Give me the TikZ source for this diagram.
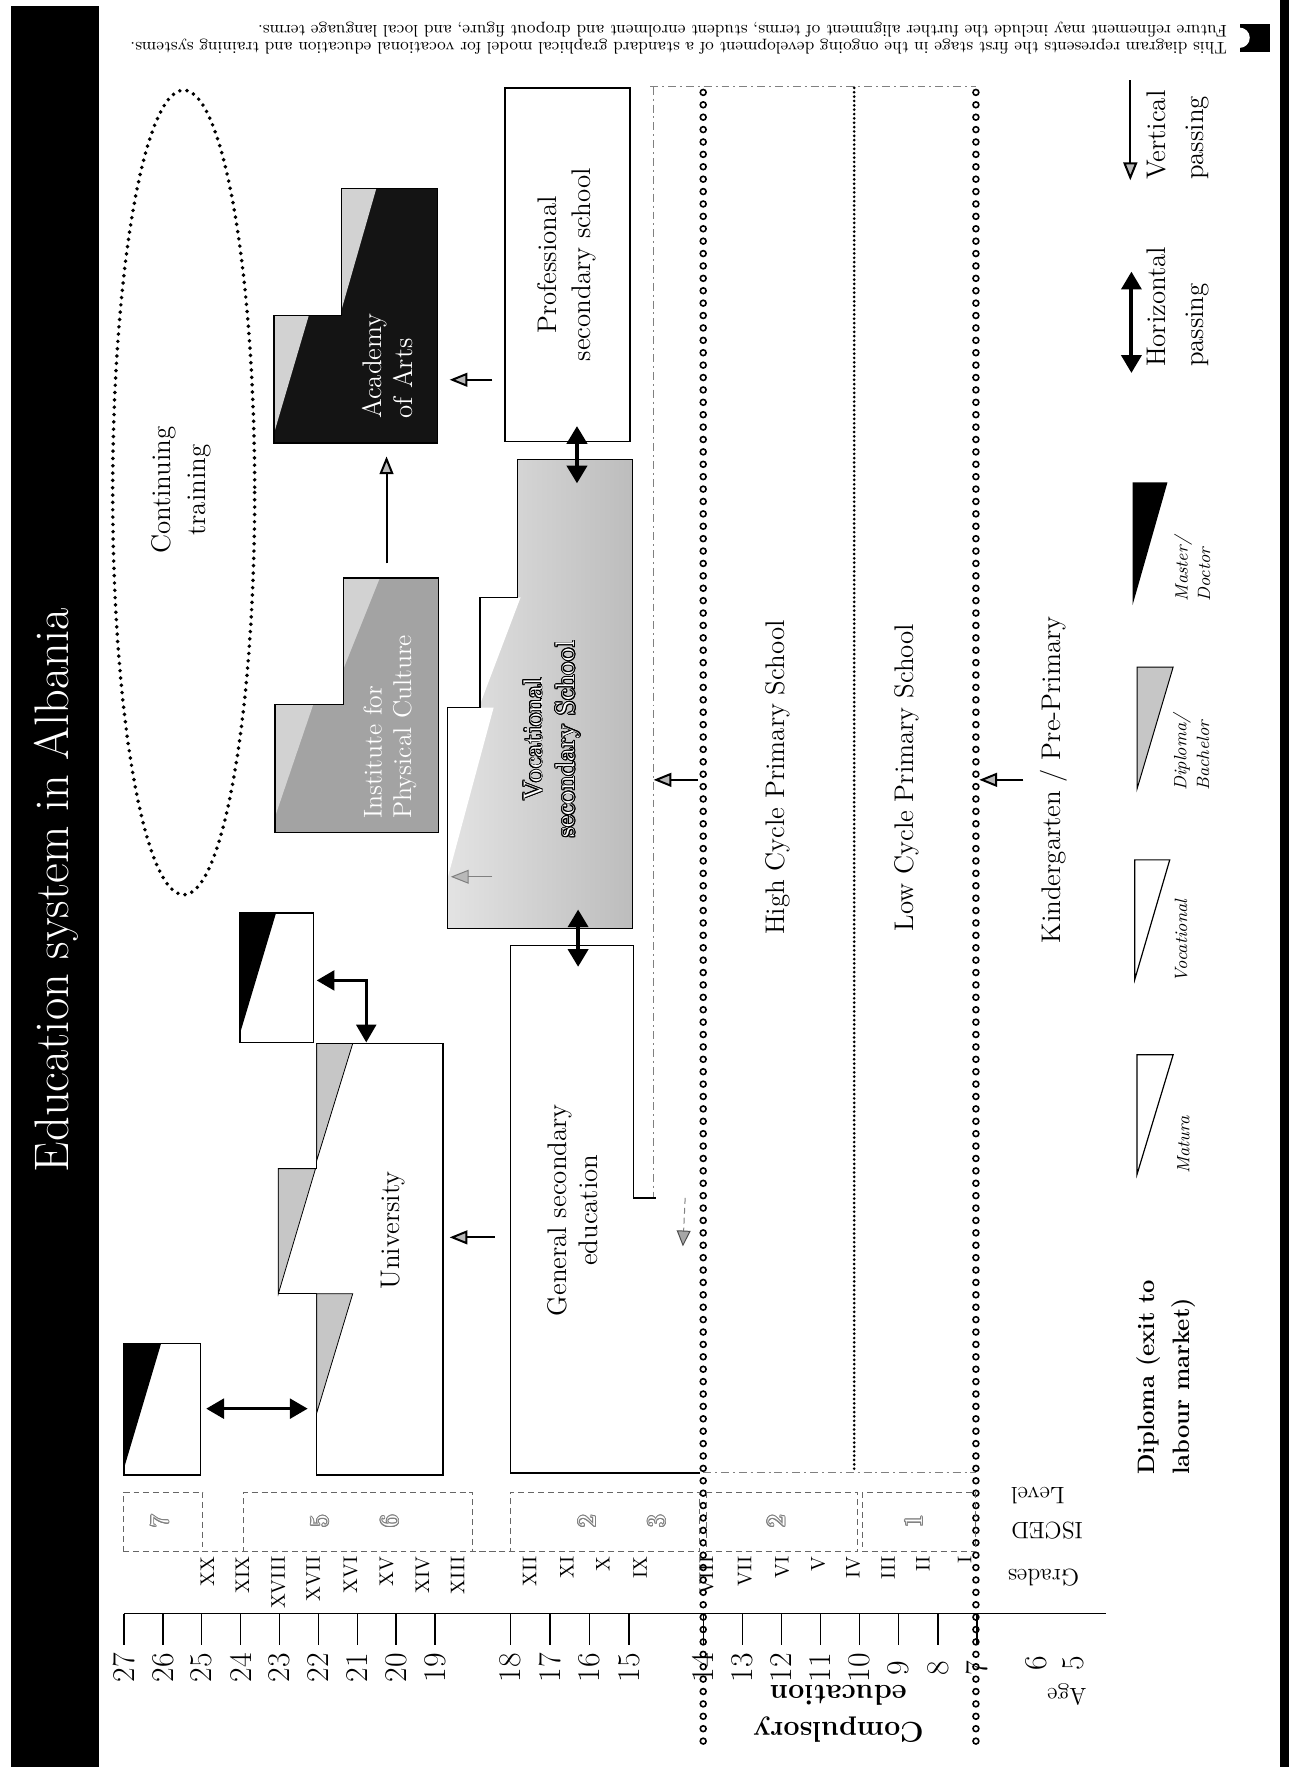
\documentclass[tikz,border=0pt]{standalone}
\usepackage{fontspec}
\usepackage{contour}
\usetikzlibrary{arrows.meta,positioning}
\contourlength{0.45pt}

\tikzset{
  box/.style={draw, line width=0.7pt},
  txt/.style={rotate=90, inner sep=0pt, align=center, font=\fontsize{13.6}{17}\selectfont},
  agenum/.style={rotate=90, inner sep=0pt, font=\fontsize{16}{18}\selectfont},
  grade/.style={rotate=90, inner sep=0pt, anchor=east, font=\fontsize{10}{12}\selectfont},
  iscednum/.style={rotate=90, inner sep=0pt, font=\fontsize{13}{14}\selectfont},
  hdr/.style={rotate=180, inner sep=0pt, anchor=east, font=\fontsize{12}{14}\selectfont},
  legtxt/.style={rotate=90, inner sep=0pt, anchor=west, align=left, font=\fontsize{9}{11.4}\selectfont\itshape},
  vpass/.style={line width=1pt, -{Triangle[length=9pt, width=7pt, fill=gray!55]}},
  hpass/.style={line width=2.4pt, {Triangle[length=9pt, width=10pt]}-{Triangle[length=9pt, width=10pt]}},
  circline/.style={line width=0.8pt, fill=white},
  faint/.style={gray, line width=0.4pt, dash pattern=on 4pt off 2pt on 1pt off 2pt},
  isced/.style={gray!80!black, line width=0.5pt, densely dashed},
  notetxt/.style={rotate=180, inner sep=0pt, anchor=west, font=\fontsize{8.5}{9.5}\selectfont},
}

\begin{document}
\begin{tikzpicture}[x=0.02cm, y=-0.02cm]
\useasboundingbox[fill=white] (0,0) rectangle (1144,1568);

% title bar and right border
\fill (10,5) rectangle (88,1568);
\node[rotate=90, text=white, font=\fontsize{24.5}{28}\selectfont] (title) at (50,790) {Education system in Albania};
\fill (1136,0) rectangle (1144,1568);

% note at the top (upside down)
\fill (1100,21) rectangle (1127,46);
\fill[white] (1100,33.5) circle [radius=9];
\node[notetxt] (note1) at (1089,41)
  {This diagram represents the first stage in the ongoing development of a standard graphical model for vocational education and training systems.};
\node[notetxt] (note2) at (1089,26)
  {Future refinement may include the further alignment of terms, student enrolment and dropout figure, and local language terms.};

% continuing training
\draw[line width=2pt, dash pattern=on 0pt off 3.7pt, line cap=round] (163,437) ellipse [x radius=63, y radius=357];
\node[txt, font=\fontsize{13.6}{18}\selectfont] (cont) at (161,435) {Continuing\\training};

% faint borders of the primary school
\draw[faint] (577,77) -- (866,77);
\draw[faint] (624,1307) -- (866,1307);
\draw[faint] (580,77) -- (580,1063);
\draw[line width=1.5pt, dash pattern=on 0pt off 2.2pt, line cap=round] (758,78) -- (758,1307);

% professional secondary school
\draw[box] (448,78) rectangle (559,392);
\node[txt] (prof) at (503,235) {Professional\\secondary school};

% vocational secondary school
\shade[left color=gray!22, right color=gray!52]
  (459,408) -- (561,408) -- (561,824) -- (397,824) -- (397,628) -- (426,628) -- (426,530) -- (459,530) -- cycle;
\fill[white] (426,530) -- (462,530) -- (426,625) -- cycle;
\fill[white] (397,628) -- (438,628) -- (397,780) -- cycle;
\draw[box] (459,408) -- (561,408) -- (561,824) -- (397,824) -- (397,628) -- (426,628) -- (426,530) -- (459,530) -- cycle;
\node[txt, text=white, font=\fontsize{13.6}{16.5}\selectfont] (voc) at (490,656)
  {\contour{black}{Vocational}\\\contour{black}{secondary School}};

% general secondary education
\draw[box] (582,1063) -- (562,1063) -- (562,839) -- (453,839) -- (453,1307) -- (621,1307);
\node[txt, font=\fontsize{13.6}{15.4}\selectfont] (gen) at (508,1074) {General secondary\\education};

% university
\draw[box] (281,926) -- (393,926) -- (393,1309) -- (281,1309) -- (281,1148) -- (247,1148) -- (247,1037) -- (281,1037) -- cycle;
\filldraw[fill=gray!45, line width=0.4pt] (281,926) -- (313,926) -- (281,1030) -- cycle;
\filldraw[fill=gray!45, line width=0.4pt] (247,1037) -- (280,1037) -- (247,1148) -- cycle;
\filldraw[fill=gray!45, line width=0.4pt] (281,1148) -- (313,1148) -- (281,1254) -- cycle;
\node[txt] (univ) at (349,1092) {University};

% master and doctor boxes
\draw[box] (213,810) rectangle (278,925);
\fill (213,810) -- (245,810) -- (213,917) -- cycle;
\draw[box] (110,1192) rectangle (178,1309);
\fill (110,1192) -- (143,1192) -- (110,1303) -- cycle;

% institute for physical culture
\fill[gray!72] (305,513) -- (389,513) -- (389,739) -- (244,739) -- (244,625) -- (305,625) -- cycle;
\fill[gray!35] (305,513) -- (337,513) -- (305,593) -- cycle;
\fill[gray!35] (244,625) -- (278,625) -- (244,725) -- cycle;
\draw[box] (305,513) -- (389,513) -- (389,739) -- (244,739) -- (244,625) -- (305,625) -- cycle;
\node[txt, align=left, anchor=west, text=white, font=\fontsize{13}{14.8}\selectfont] (inst) at (346,727) {Institute for\\Physical Culture};

% academy of arts
\fill[black!92] (303,167) -- (388,167) -- (388,393) -- (243,393) -- (243,280) -- (303,280) -- cycle;
\fill[gray!35] (303,167) -- (334,167) -- (303,275) -- cycle;
\fill[gray!35] (243,280) -- (274,280) -- (243,385) -- cycle;
\draw[box] (303,167) -- (388,167) -- (388,393) -- (243,393) -- (243,280) -- (303,280) -- cycle;
\node[txt, align=left, anchor=west, text=white, font=\fontsize{13.6}{16}\selectfont] (acad) at (344,372) {Academy\\of Arts};

% primary and pre-primary
\node[txt] (high) at (690,690) {High Cycle Primary School};
\node[txt] (low) at (805,690) {Low Cycle Primary School};
\node[txt] (kinder) at (935,692) {Kindergarten / Pre-Primary};

% compulsory education limits
\foreach \y in {82,93,...,1551} {
  \draw[circline] (624,\y) circle [radius=2.6];
  \draw[circline] (866,\y) circle [radius=2.6];
}

% passing arrows
\coordinate (instT) at (343,500);
\coordinate (acadB) at (343,405);
\coordinate (profL) at (437,337);
\coordinate (acadR) at (399,337);
\coordinate (genL) at (439,1098);
\coordinate (univR) at (399,1098);
\coordinate (highL) at (619,692);
\coordinate (vocR) at (580,692);
\coordinate (kindL) at (908,692);
\coordinate (lowR) at (869,692);
\coordinate (vocL) at (437,778);
\coordinate (vocE) at (400,778);
\coordinate (narB) at (608,1063);
\coordinate (narE) at (606,1106);
\draw[vpass] (instT) -- (acadB);
\draw[vpass] (profL) -- (acadR);
\draw[vpass] (genL) -- (univR);
\draw[vpass] (highL) -- (vocR);
\draw[vpass] (kindL) -- (lowR);
\draw[vpass, line width=0.5pt, gray] (vocL) -- (vocE);
\draw[line width=0.5pt, gray, densely dashed, -{Triangle[length=8pt, width=7pt, fill=gray!70, color=gray!60!black]}] (narB) -- (narE);

\coordinate (profB) at (512,378);
\coordinate (vocT) at (512,429);
\coordinate (vocB) at (513,807);
\coordinate (genT) at (513,858);
\coordinate (docR) at (183,1250);
\coordinate (univL) at (273,1250);
\coordinate (mastR) at (281,870);
\coordinate (univT) at (325,925);
\draw[hpass] (profB) -- (vocT);
\draw[hpass] (vocB) -- (genT);
\draw[hpass, line width=1.6pt] (docR) -- (univL);
\draw[hpass, line width=1.6pt] (mastR) -| (univT);

% ISCED levels
\draw[isced] (110,1377) -- (110,1324) -- (180,1324) -- (180,1377) -- (216,1377) -- (216,1324) -- (419,1324) -- (419,1377)
  -- (453,1377) -- (453,1324) -- (621,1324) -- (621,1377) -- cycle;
\draw[isced] (627,1324) rectangle (761,1377);
\draw[isced] (765,1324) rectangle (866,1377);
\foreach \n/\x/\lv in {is7/142/7, is5/284/5, is6/346/6, is2a/521/2, is3/583/3, is2b/689/2, is1/811/1}
  \node[iscednum] (\n) at (\x,1350) {\contour{gray}{\textcolor{white}{\lv}}};

% grades
\foreach \g/\x in {XX/184, XIX/215, XVIII/247, XVII/278, XVI/311, XV/343, XIV/375, XIII/406, XII/470, XI/503, X/535, IX/568,
                   VIII/627, VII/661, VI/694, V/726, IV/757, III/788, II/819, I/856}
  \node[grade] (gr\g) at (\x,1381) {\g};

% age axis
\draw[line width=0.7pt] (110,1432) -- (981,1432);
\foreach \a in {19,...,27} {
  \pgfmathsetmacro\x{110+34.5*(27-\a)}
  \draw[line width=0.7pt] (\x,1432) -- (\x,1460);
  \node[agenum] (age\a) at (\x,1480) {\a};
}
\foreach \a in {15,...,18} {
  \pgfmathsetmacro\x{453+35*(18-\a)}
  \draw[line width=0.7pt] (\x,1432) -- (\x,1460);
  \node[agenum] (age\a) at (\x,1480) {\a};
}
\foreach \a in {7,...,14} {
  \pgfmathsetmacro\x{624+34.7*(14-\a)}
  \draw[line width=0.7pt] (\x,1432) -- (\x,1460);
  \node[agenum] (age\a) at (\x,1480) {\a};
}
\node[agenum] (age6) at (920,1476) {6};
\node[agenum] (age5) at (952,1476) {5};

% column headers (upside down)
\node[hdr] (hlevel) at (897,1327) {Level};
\node[hdr] (hisced) at (897,1358) {ISCED};
\node[hdr] (hgrades) at (894,1400) {Grades};
\node[hdr] (hage) at (929,1504) {Age};
\node[rotate=180, inner sep=0pt, align=center, font=\fontsize{14.5}{19}\selectfont\bfseries] (compul) at (744,1521) {Compulsory\\education};

% legend
\draw[hpass, line width=2pt] (1004,241) -- (1004,331);
\node[legtxt, font=\fontsize{13.6}{19}\selectfont] (lghor) at (1045,326) {Horizontal\\passing};
\draw[vpass] (1003,71) -- (1003,160);
\node[legtxt, font=\fontsize{13.6}{19}\selectfont] (lgver) at (1045,160) {Vertical\\passing};

\fill (1005,428) -- (1036,428) -- (1005,537) -- cycle;
\node[legtxt] (lgmd) at (1058,534) {Master/\\Doctor};
\filldraw[fill=gray!45, line width=0.5pt] (1009,592) -- (1041,592) -- (1009,700) -- cycle;
\node[legtxt] (lgdb) at (1057,702) {Diploma/\\Bachelor};
\draw[line width=0.6pt] (1007,763) -- (1038,763) -- (1007,869) -- cycle;
\node[legtxt] (lgvoc) at (1048,872) {Vocational};
\draw[line width=0.6pt] (1009,936) -- (1041,936) -- (1009,1042) -- cycle;
\node[legtxt] (lgmat) at (1050,1042) {Matura};

\node[legtxt, font=\fontsize{12}{17.6}\selectfont\bfseries] (lgexit) at (1035,1309) {Diploma (exit to\\labour market)};
\end{tikzpicture}
\end{document}
